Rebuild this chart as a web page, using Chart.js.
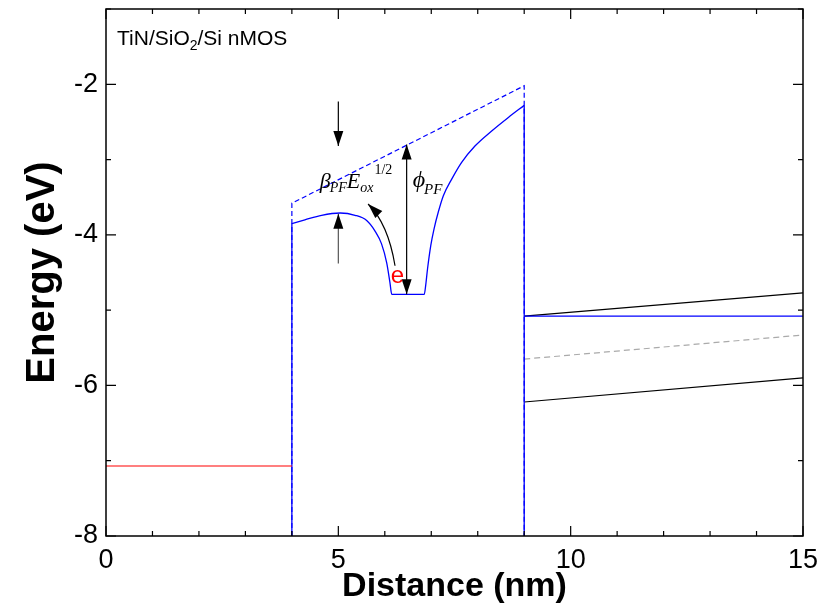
<!DOCTYPE html>
<html>
<head>
<meta charset="utf-8">
<script src="https://cdn.jsdelivr.net/npm/chart.js@4.4.0/dist/chart.umd.min.js"></script>
<style>
  html, body { margin: 0; padding: 0; background: #fff; }
  #wrap { width: 824px; height: 611px; }
</style>
</head>
<body>
<div id="wrap"><canvas id="bandChart"></canvas></div>
<script>
// metal gate (TiN) Fermi level
const metalX = [0, 4];
const metalE = [-7.07, -7.07];

// SiO2 conduction band with the Poole-Frenkel trap well (solid blue)
const oxideCurveX = [4, 4.28, 4.64, 5.04, 5.36, 5.61, 5.79, 5.93, 6.04, 6.11, 6.15, 6.85, 6.88, 6.92, 6.99, 7.06, 7.15, 7.26, 7.44, 7.65, 7.94, 8.3, 8.66, 9];
const oxideCurveE = [-3.85, -3.8, -3.74, -3.71, -3.74, -3.81, -3.95, -4.12, -4.37, -4.63, -4.79, -4.79, -4.67, -4.45, -4.14, -3.92, -3.7, -3.48, -3.26, -3.04, -2.82, -2.62, -2.44, -2.28];
const leftWallX = [4, 4];
const leftWallE = [-8, -3.85];
const rightWallX = [9, 9];
const rightWallE = [-2.28, -8];

// unperturbed oxide conduction band (dashed blue)
const barrierX = [4, 4, 9, 9];
const barrierE = [-8, -3.58, -2.02, -8];

// Si substrate bands
const siX = [9, 15];
const siEc = [-5.08, -4.77];
const siEi = [-5.65, -5.33];
const siEv = [-6.22, -5.9];
const siEf = [-5.08, -5.08];

const xTicks = [0, 5, 10, 15];
const yTicks = [-8, -6, -4, -2];

// annotation arrows [x1, y1, x2, y2] in data units, head at the second point
const arrowsOneWay = [[5.0, -2.23, 5.0, -2.82], [5.0, -4.38, 5.0, -3.72]];
const arrowsTwoWay = [[6.47, -2.8, 6.47, -4.79]];
// curved emission arrow: start, control, end
const emissionArrow = [[6.22, -4.41], [6.07, -3.85], [5.64, -3.59]];

const FONT = "'Liberation Sans', Arial, sans-serif";
const SERIF = "'Liberation Serif', 'Times New Roman', serif";

const pts = (xs, ys) => xs.map((x, i) => ({ x: x, y: ys[i] }));

function line(label, xs, ys, color, width, dash) {
  return {
    label: label,
    data: pts(xs, ys),
    showLine: true,
    borderColor: color,
    borderWidth: width,
    borderDash: dash || [],
    pointRadius: 0,
    fill: false,
    tension: 0
  };
}

function drawArrowHead(ctx, x1, y1, x2, y2) {
  const ang = Math.atan2(y2 - y1, x2 - x1);
  const len = 15, half = 5;
  ctx.beginPath();
  ctx.moveTo(x2, y2);
  ctx.lineTo(x2 - len * Math.cos(ang) + half * Math.sin(ang), y2 - len * Math.sin(ang) - half * Math.cos(ang));
  ctx.lineTo(x2 - len * Math.cos(ang) - half * Math.sin(ang), y2 - len * Math.sin(ang) + half * Math.cos(ang));
  ctx.closePath();
  ctx.fill();
}

const framePlugin = {
  id: "frame",
  afterDatasetsDraw(chart) {
    const { ctx, chartArea: a, scales: { x, y } } = chart;
    const P = (vx, vy) => [x.getPixelForValue(vx), y.getPixelForValue(vy)];
    ctx.save();
    ctx.strokeStyle = "#000";
    ctx.fillStyle = "#000";
    ctx.lineWidth = 1.5;
    ctx.strokeRect(a.left, a.top, a.right - a.left, a.bottom - a.top);

    // inward ticks on all four sides
    ctx.lineWidth = 1.2;
    ctx.beginPath();
    for (let v = 0; v <= 15; v++) {
      const px = x.getPixelForValue(v);
      const L = v % 5 === 0 ? 10 : 5;
      ctx.moveTo(px, a.bottom); ctx.lineTo(px, a.bottom - L);
      ctx.moveTo(px, a.top); ctx.lineTo(px, a.top + L);
    }
    for (let v = -8; v <= -1; v++) {
      const py = y.getPixelForValue(v);
      const L = v % 2 === 0 ? 10 : 5;
      ctx.moveTo(a.left, py); ctx.lineTo(a.left + L, py);
      ctx.moveTo(a.right, py); ctx.lineTo(a.right - L, py);
    }
    ctx.stroke();

    // arrows
    arrowsOneWay.forEach(([x1, y1, x2, y2], i) => {
      const p1 = P(x1, y1), p2 = P(x2, y2);
      ctx.strokeStyle = i === 1 ? "#555" : "#000";
      ctx.beginPath(); ctx.moveTo(p1[0], p1[1]); ctx.lineTo(p2[0], p2[1]); ctx.stroke();
      drawArrowHead(ctx, p1[0], p1[1], p2[0], p2[1]);
    });
    ctx.strokeStyle = "#000";
    arrowsTwoWay.forEach(([x1, y1, x2, y2]) => {
      const p1 = P(x1, y1), p2 = P(x2, y2);
      ctx.beginPath(); ctx.moveTo(p1[0], p1[1]); ctx.lineTo(p2[0], p2[1]); ctx.stroke();
      drawArrowHead(ctx, p1[0], p1[1], p2[0], p2[1]);
      drawArrowHead(ctx, p2[0], p2[1], p1[0], p1[1]);
    });

    const [s, c, e] = emissionArrow.map(p => P(p[0], p[1]));
    ctx.beginPath(); ctx.moveTo(s[0], s[1]); ctx.quadraticCurveTo(c[0], c[1], e[0], e[1]); ctx.stroke();
    drawArrowHead(ctx, c[0], c[1], e[0], e[1]);

    // labels
    ctx.textBaseline = "alphabetic";
    ctx.textAlign = "left";
    ctx.fillStyle = "#000";
    ctx.font = "21px " + FONT;
    const tx = a.left + 11, ty = a.top + 36;
    ctx.fillText("TiN/SiO", tx, ty);
    let w = ctx.measureText("TiN/SiO").width;
    ctx.font = "14px " + FONT;
    ctx.fillText("2", tx + w, ty + 5);
    w += ctx.measureText("2").width;
    ctx.font = "21px " + FONT;
    ctx.fillText("/Si nMOS", tx + w, ty);

    // beta_PF E_ox^1/2
    const [bx, by] = P(4.6, -3.38);
    ctx.font = "italic 22px " + SERIF;
    ctx.fillText("\u03B2", bx, by);
    let bw = ctx.measureText("\u03B2").width;
    ctx.font = "italic 14px " + SERIF;
    ctx.fillText("PF", bx + bw - 1, by + 4);
    bw += ctx.measureText("PF").width - 1;
    ctx.font = "italic 22px " + SERIF;
    ctx.fillText("E", bx + bw, by);
    bw += ctx.measureText("E").width;
    ctx.font = "italic 14px " + SERIF;
    ctx.fillText("ox", bx + bw, by + 4);
    bw += ctx.measureText("ox").width + 1;
    ctx.font = "14px " + SERIF;
    ctx.fillText("1/2", bx + bw, by - 14);

    // phi_PF
    const [fx, fy] = P(6.6, -3.36);
    ctx.font = "italic 24px " + SERIF;
    ctx.fillText("\u03D5", fx, fy);
    const fw = ctx.measureText("\u03D5").width;
    ctx.font = "italic 15px " + SERIF;
    ctx.fillText("PF", fx + fw - 1, fy + 7);

    // trapped electron
    ctx.fillStyle = "#ff0000";
    ctx.font = "24px " + FONT;
    ctx.textAlign = "center";
    const [ex, ey] = P(6.27, -4.64);
    ctx.fillText("e", ex, ey);
    ctx.restore();
  }
};

function initBandChart() {
  const ctx = document.getElementById("bandChart");
  if (!ctx) return console.error("bandChart canvas not found");
  const curve = line("Ec SiO2", oxideCurveX, oxideCurveE, "#0000ff", 1.3);
  curve.cubicInterpolationMode = "monotone";
  new Chart(ctx.getContext("2d"), {
    type: "scatter",
    data: {
      datasets: [
        line("TiN", metalX, metalE, "#ff0000", 1.2),
        curve,
        line("left wall", leftWallX, leftWallE, "#0000ff", 1.3),
        line("right wall", rightWallX, rightWallE, "#0000ff", 1.3),
        line("Ec SiO2 (no PF)", barrierX, barrierE, "#0000ff", 1.2, [5, 3]),
        line("Ef Si", siX, siEf, "#0000ff", 1.2),
        line("Ec Si", siX, siEc, "#000000", 1.2),
        line("Ei Si", siX, siEi, "#aaaaaa", 1.2, [6, 4]),
        line("Ev Si", siX, siEv, "#000000", 1.2)
      ]
    },
    options: {
      responsive: true,
      maintainAspectRatio: false,
      animation: false,
      layout: { padding: { top: 9, right: 21, left: 0, bottom: 0 } },
      plugins: { legend: { display: false }, tooltip: { enabled: false } },
      scales: {
        x: {
          type: "linear",
          min: 0, max: 15,
          grid: { display: false, drawTicks: false },
          border: { display: false },
          afterBuildTicks: s => { s.ticks = xTicks.map(v => ({ value: v })); },
          afterFit: s => { s.height = 75; s.paddingLeft = 0; s.paddingRight = 0; },
          ticks: { color: "#000", padding: 8, font: { family: FONT, size: 27 } },
          title: {
            display: true, text: "Distance (nm)", color: "#000", padding: { top: 0, bottom: 4 },
            font: { family: FONT, size: 34, weight: "bold" }
          }
        },
        y: {
          type: "linear",
          min: -8, max: -1,
          grid: { display: false, drawTicks: false },
          border: { display: false },
          afterBuildTicks: s => { s.ticks = yTicks.map(v => ({ value: v })); },
          afterFit: s => { s.width = 106; s.paddingTop = 0; s.paddingBottom = 0; },
          ticks: { color: "#000", padding: 8, font: { family: FONT, size: 27 } },
          title: {
            display: true, text: "Energy (eV)", color: "#000", padding: { top: 19, bottom: 19 },
            font: { family: FONT, size: 40, weight: "bold" }
          }
        }
      }
    },
    plugins: [framePlugin]
  });
}

document.addEventListener("DOMContentLoaded", initBandChart);
</script>
</body>
</html>
